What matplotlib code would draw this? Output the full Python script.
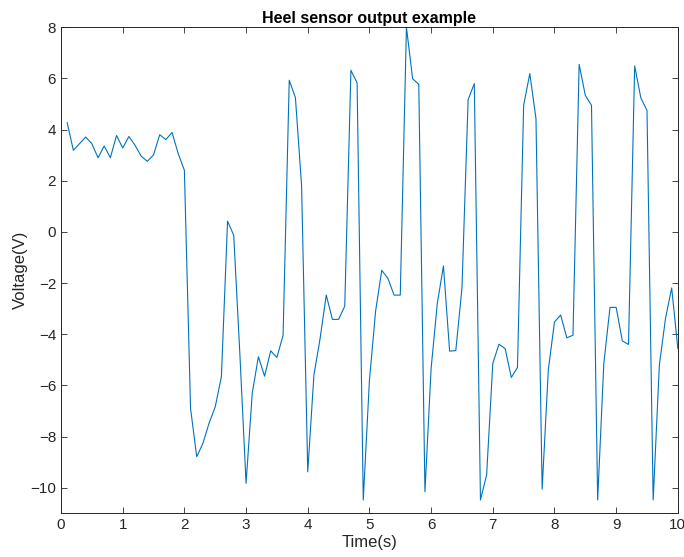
import matplotlib
matplotlib.use('Agg')
import numpy as np
import matplotlib.pyplot as plt

plt.rcParams['font.family'] = ['Liberation Sans', 'DejaVu Sans']

# Tiempo (s), muestras cada 0.1 s
tiempo = np.round(np.arange(1, 101) * 0.1, 1)

# Voltaje
voltaje = [
    4.27, 3.19, 3.45, 3.71, 3.45, 2.90, 3.36, 2.90, 3.77, 3.28,
    3.73, 3.39, 2.96, 2.76, 3.01, 3.80, 3.61, 3.89, 3.06, 2.41,
    -6.90, -8.79, -8.27, -7.48, -6.84, -5.66, 0.42, -0.13, -4.80, -9.83,
    -6.31, -4.88, -5.64, -4.65, -4.91, -4.04, 5.93, 5.25, 1.82, -9.38,
    -5.60, -4.17, -2.47, -3.42, -3.42, -2.90, 6.32, 5.83, -10.48, -5.80,
    -3.10, -1.50, -1.82, -2.47, -2.47, 8.00, 5.99, 5.77, -10.16, -5.34,
    -2.80, -1.33, -4.66, -4.64, -2.20, 5.17, 5.80, -10.48, -9.50, -5.14,
    -4.39, -4.56, -5.69, -5.30, 4.95, 6.19, 4.43, -10.06, -5.40, -3.52,
    -3.25, -4.14, -4.04, 6.55, 5.34, 4.95, -10.48, -5.14, -2.95, -2.95,
    -4.26, -4.40, 6.49, 5.24, 4.75, -10.48, -5.21, -3.38, -2.19, -4.56,
]

fig = plt.figure(figsize=(6.84, 5.57), dpi=100)
ax = fig.add_axes([0.0892, 0.0785, 0.9018, 0.8725])
ax.plot(tiempo, voltaje, color='#0072BD', linewidth=0.8)

ax.set_xlim(0, 10)
ax.set_ylim(-11, 8)
ax.set_xticks(range(0, 11))
ax.set_yticks(range(-10, 9, 2))

gris = '#262626'
for s in ax.spines.values():
    s.set_color(gris)
    s.set_linewidth(0.7)
ax.tick_params(direction='in', top=True, right=True, colors=gris,
               labelsize=11, length=4, width=0.6)

ax.set_title('Heel sensor output example', fontsize=11.5, fontweight='bold', pad=3)
ax.set_xlabel('Time(s)', fontsize=12, color=gris, labelpad=2)
ax.set_ylabel('Voltage(V)', fontsize=12, color=gris, labelpad=2)

plt.savefig('out.png', dpi=100)
